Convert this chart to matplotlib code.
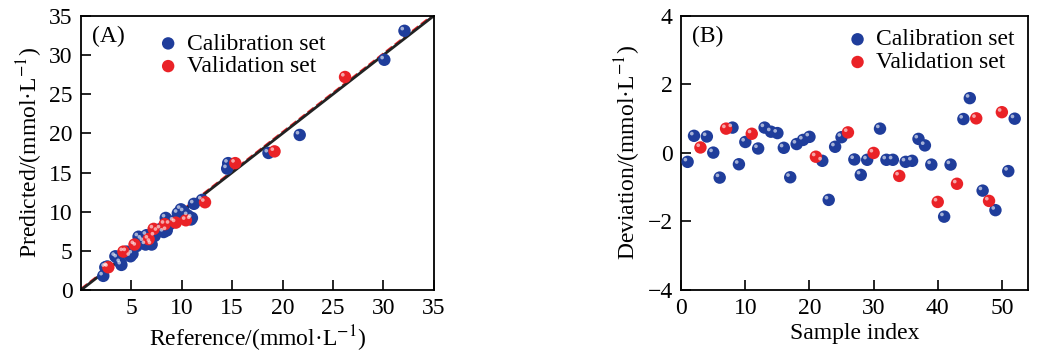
import matplotlib
matplotlib.use('Agg')
import matplotlib.pyplot as plt
import matplotlib.transforms as mtransforms

plt.rcParams['font.family'] = ['Liberation Serif', 'DejaVu Serif']
plt.rcParams['mathtext.fontset'] = 'stix'
plt.rcParams['font.size'] = 17

# (A) reference vs predicted
cal_ref = [32.1, 30.1, 21.7, 18.6, 14.6, 14.5, 11.2, 9.9, 10.9, 11.0,
           8.4, 8.2, 8.5, 7.0, 6.4, 5.7, 6.0, 6.5, 6.9, 4.9,
           5.1, 4.0, 3.9, 3.4, 3.6, 2.2, 2.4, 2.6, 7.6, 7.9,
           9.2, 9.6, 10.2, 5.5, 4.5, 6.2, 7.3, 8.8, 10.6, 12.0]
cal_pred = [33.1, 29.4, 19.8, 17.5, 16.2, 15.5, 11.0, 10.3, 9.0, 9.2,
            9.2, 7.4, 7.6, 5.8, 5.8, 6.8, 6.5, 7.0, 6.1, 4.3,
            4.6, 3.2, 3.5, 4.3, 4.1, 1.8, 2.9, 3.0, 7.5, 7.8,
            8.8, 9.8, 10.0, 5.6, 4.9, 6.2, 6.9, 8.4, 9.5, 11.5]
val_ref = [26.2, 19.2, 15.3, 12.3, 10.4, 9.4, 8.3, 7.2, 6.7, 5.3, 4.2, 2.7]
val_pred = [27.2, 17.7, 16.2, 11.2, 8.9, 8.6, 8.4, 7.8, 6.5, 5.8, 4.9, 2.9]

# (B) deviation per sample
cal_idx = [1, 2, 4, 5, 6, 8, 9, 10, 12, 13, 14, 15, 16, 17, 18, 19, 20,
           22, 23, 24, 25, 27, 28, 29, 31, 32, 33, 35, 36, 37, 38, 39,
           41, 42, 44, 45, 47, 49, 51, 52]
cal_dev = [-0.26, 0.50, 0.48, 0.01, -0.72, 0.74, -0.33, 0.32, 0.13, 0.74,
           0.62, 0.58, 0.15, -0.71, 0.26, 0.38, 0.47, -0.23, -1.37, 0.18,
           0.46, -0.19, -0.64, -0.20, 0.71, -0.20, -0.20, -0.26, -0.23, 0.41,
           0.22, -0.34, -1.86, -0.34, 0.99, 1.60, -1.10, -1.67, -0.53, 1.00]
val_idx = [3, 7, 11, 21, 26, 30, 34, 40, 43, 46, 48, 50]
val_dev = [0.16, 0.71, 0.56, -0.11, 0.60, 0.0, -0.67, -1.43, -0.90, 1.01, -1.40, 1.19]

blue = '#1f3d9b'
red = '#ea2227'

fig = plt.figure(figsize=(10.4, 3.62), dpi=100)
ax1 = fig.add_axes([0.078, 0.199, 0.339, 0.757])
ax2 = fig.add_axes([0.655, 0.199, 0.333, 0.757])


def balls(ax, x, y, color, label):
    ax.scatter(x, y, s=80, color=color, label=label, zorder=3, edgecolors='none')
    hl = mtransforms.offset_copy(ax.transData, fig=fig, x=-1.6, y=1.6, units='points')
    ax.scatter(x, y, s=7, color='white', alpha=0.6, zorder=4,
               edgecolors='none', transform=hl)


# panel A
ax1.plot([0, 35], [0.15, 35.2], '--', color=red, lw=1.5, zorder=1)
ax1.plot([0, 35], [0, 35], '-', color='#222222', lw=2, zorder=2)
balls(ax1, cal_ref, cal_pred, blue, 'Calibration set')
balls(ax1, val_ref, val_pred, red, 'Validation set')
ax1.set_xlim(0, 35)
ax1.set_ylim(0, 35)
ax1.set_xticks([5, 10, 15, 20, 25, 30, 35])
ax1.set_yticks([0, 5, 10, 15, 20, 25, 30, 35])
ax1.set_xlabel('Reference/(mmol·L$^{-1}$)', labelpad=3)
ax1.set_ylabel('Predicted/(mmol·L$^{-1}$)', labelpad=3)
ax1.text(0.03, 0.965, '(A)', transform=ax1.transAxes, va='top', ha='left')
ax1.legend(loc='upper center', bbox_to_anchor=(0.45, 1.015), frameon=False,
           handletextpad=0.2, labelspacing=0.05, handlelength=1.2)

# panel B
balls(ax2, cal_idx, cal_dev, blue, 'Calibration set')
balls(ax2, val_idx, val_dev, red, 'Validation set')
ax2.set_xlim(0, 54)
ax2.set_ylim(-4, 4)
ax2.set_xticks([0, 10, 20, 30, 40, 50])
ax2.set_yticks([-4, -2, 0, 2, 4])
ax2.set_xlabel('Sample index', labelpad=3)
ax2.set_ylabel('Deviation/(mmol·L$^{-1}$)', labelpad=3)
ax2.text(0.03, 0.965, '(B)', transform=ax2.transAxes, va='top', ha='left')
ax2.legend(loc='upper right', bbox_to_anchor=(1.025, 1.03), frameon=False,
           handletextpad=0.2, labelspacing=0.05, handlelength=1.2)

for ax in (ax1, ax2):
    ax.tick_params(direction='in', length=7, width=1.2, top=False, right=False,
                   labelsize=17, pad=6)
    for s in ax.spines.values():
        s.set_linewidth(1.3)

fig.savefig('out.png', dpi=100)
